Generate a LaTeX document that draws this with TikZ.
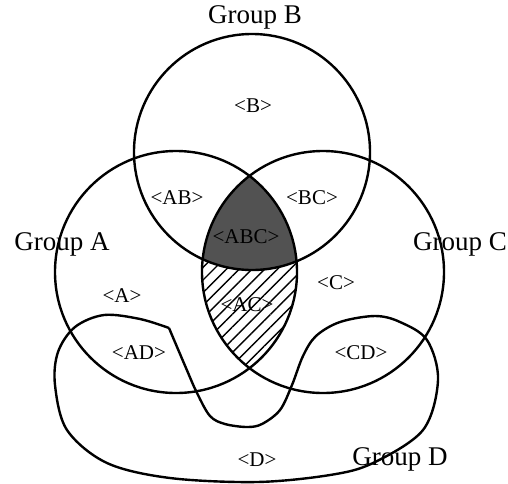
\documentclass[tikz,border=0pt]{standalone}
\usepackage{fontspec}
\setmainfont{Liberation Serif}
\usetikzlibrary{patterns.meta}
\begin{document}
\begin{tikzpicture}[x=1pt,y=-1pt,
  outline/.style={line width=2.4pt, draw=black},
  grp/.style={font=\fontsize{27}{27}\selectfont, inner sep=0pt},
  lbl/.style={font=\fontsize{21}{21}\selectfont, inner sep=0pt}]
\useasboundingbox (0,0) rectangle (508,483);
\coordinate (cA) at (176,272);
\coordinate (cB) at (252,152);
\coordinate (cC) at (323,272);
% shaded regions
\begin{scope}
  \clip (cA) circle[radius=121];
  \clip (cC) circle[radius=121];
  \fill[pattern={Lines[angle=45,distance=9pt,line width=1.4pt]}] (0,0) rectangle (508,483);
  \fill[black!68] (cB) circle[radius=118];
\end{scope}
% circles
\draw[outline] (cA) circle[radius=121];
\draw[outline] (cB) circle[radius=118];
\draw[outline] (cC) circle[radius=121];
% group D
\draw[outline, line join=round] plot[smooth, tension=0.55] coordinates {
  (169,328) (140,319) (104,315) (75,327) (58,352) (55,385) (67,430) (107,463)
  (170,478) (257,482) (330,475) (373,463) (423,430) (438,380) (427,340)
  (400,322) (375,316) (340,322) (316,336) (303,356) (292,385) (280,410)
  (262,424) (247,427) (225,424) (210,416) (197,393) (186,368) (169,328)};
% group labels
\node[grp] (gA) at (62,244) {Group A};
\node[grp] (gB) at (255,17) {Group B};
\node[grp] (gC) at (460,244) {Group C};
\node[grp] (gD) at (400,459) {Group D};
% region labels
\node[lbl] (rB) at (253,106) {<B>};
\node[lbl] (rAB) at (177,198) {<AB>};
\node[lbl] (rBC) at (312,198) {<BC>};
\node[lbl] (rABC) at (246,237) {<ABC>};
\node[lbl] (rA) at (122,296) {<A>};
\node[lbl] (rC) at (336,283) {<C>};
\node[lbl] (rAC) at (247,305) {<AC>};
\node[lbl] (rAD) at (139,353) {<AD>};
\node[lbl] (rCD) at (361,353) {<CD>};
\node[lbl] (rD) at (257,460) {<D>};
\end{tikzpicture}
\end{document}
